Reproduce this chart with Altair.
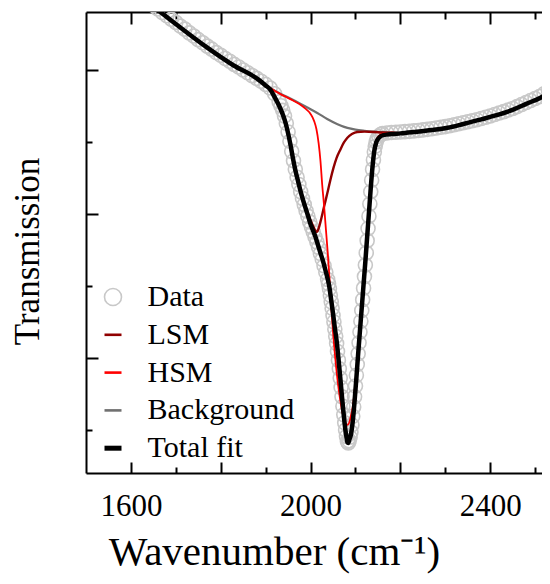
import altair as alt
import pandas as pd

SERIF = "Liberation Serif"

# ---------------- data ----------------
DATA_WN = [1640, 1650, 1660, 1670, 1680, 1690, 1700, 1710, 1720, 1730, 1740, 1750, 1760, 1770,
           1780, 1790, 1800, 1810, 1820, 1830, 1840, 1850, 1860, 1870, 1880, 1890, 1900, 1910,
           1920, 1930,
           1934, 1938, 1942, 1946, 1950, 1954, 1958, 1962, 1966, 1970, 1974, 1978, 1982, 1986,
           1990, 1994, 1998, 2002, 2006, 2010, 2014, 2018, 2022, 2026, 2030, 2034, 2038,
           2040, 2042, 2044, 2046, 2048, 2050, 2052, 2054, 2056, 2058, 2060, 2062, 2064, 2066,
           2068, 2070, 2072, 2074, 2076, 2078, 2080, 2082, 2084, 2086, 2088, 2090, 2092, 2094,
           2096, 2098, 2100, 2102, 2104, 2106, 2108, 2110, 2112, 2114, 2116, 2118, 2120, 2122,
           2124, 2126, 2128, 2130, 2132, 2134, 2136, 2138, 2140, 2142, 2144, 2146, 2148,
           2152, 2156, 2160, 2170, 2180, 2190, 2200, 2210, 2220, 2230, 2240, 2250, 2260, 2270,
           2280, 2290, 2300, 2310, 2320, 2330, 2340, 2350, 2360, 2370, 2380, 2390, 2400, 2410,
           2420, 2430, 2440, 2450, 2460, 2470, 2480, 2490, 2500, 2510, 2520, 2530, 2540]
DATA_TR = [69.78, 69.50, 69.24, 68.99, 68.77, 68.53, 68.31, 68.05, 67.84, 67.58, 67.36, 67.11,
           66.89, 66.66, 66.45, 66.21, 66.02, 65.80, 65.61, 65.39, 65.21, 65.00, 64.81, 64.61,
           64.42, 64.22, 64.00, 63.75, 63.35, 62.80,
           62.52, 62.20, 61.80, 61.30, 60.70, 60.05, 59.35, 58.70, 58.10, 57.55, 57.05, 56.55,
           56.08, 55.65, 55.22, 54.85, 54.45, 54.10, 53.75, 53.40, 53.05, 52.68, 52.25, 51.85,
           51.40, 50.95, 50.45,
           50.15, 49.80, 49.35, 48.90, 48.45, 47.95, 47.50, 47.00, 46.50, 46.00, 45.45, 44.85,
           44.25, 43.60, 42.95, 42.30, 41.65, 41.05, 40.50, 40.00, 39.55, 39.20, 39.10, 39.25,
           39.50, 39.85, 40.35, 40.95, 41.60, 42.30, 43.05, 43.80, 44.55, 45.30, 46.05, 46.80,
           47.55, 48.30, 49.05, 49.85, 50.65, 51.45, 52.30, 53.15, 54.00, 54.85, 55.70, 56.55,
           57.35, 58.10, 58.75, 59.30, 59.70, 60.00, 60.20,
           60.40, 60.52, 60.58, 60.63, 60.66, 60.68, 60.70, 60.72, 60.74, 60.77, 60.80, 60.84,
           60.88, 60.92, 60.97, 61.02, 61.07, 61.13, 61.20, 61.27, 61.34, 61.41, 61.48, 61.55,
           61.63, 61.72, 61.81, 61.91, 62.01, 62.11, 62.22, 62.33, 62.46, 62.60, 62.74, 62.88,
           63.02, 63.16, 63.35, 63.56, 63.78]

TOTAL_WN = [1640, 1665, 1710, 1770, 1828, 1881, 1900, 1910, 1920, 1930, 1940, 1945, 1950, 1955,
            1960, 1966, 1972, 1977, 1983, 1988, 1994, 1999, 2005, 2011, 2016, 2022, 2028, 2033,
            2038, 2042, 2046, 2050, 2054, 2058, 2062, 2066, 2070, 2074, 2078, 2080, 2082, 2084,
            2086, 2090, 2094, 2098, 2102, 2106, 2110, 2114, 2118, 2122, 2126, 2130, 2134, 2138,
            2142, 2146, 2150, 2156, 2162, 2180, 2200, 2229, 2270, 2305, 2340, 2378, 2410, 2451,
            2480, 2512, 2534, 2550]
TOTAL_TR = [69.68, 69.05, 67.95, 66.55, 65.33, 64.40, 63.93, 63.66, 63.12, 62.52, 61.75, 61.25,
            60.60, 59.85, 59.00, 58.06, 57.30, 56.67, 56.00, 55.49, 54.90, 54.38, 53.90, 53.40,
            52.90, 52.29, 51.70, 51.11, 50.50, 49.90, 49.00, 48.10, 47.10, 46.20, 45.00, 43.68,
            42.30, 41.00, 39.90, 39.50, 39.15, 39.10, 39.30, 39.70, 40.60, 42.00, 43.60, 45.30,
            46.90, 48.50, 50.10, 51.70, 53.40, 55.10, 56.80, 58.30, 59.40, 59.95, 60.20, 60.40,
            60.48, 60.55, 60.60, 60.69, 60.83, 60.99, 61.25, 61.55, 61.83, 62.25, 62.65, 63.08,
            63.48, 63.80]

BG_WN = [1640, 1665, 1710, 1770, 1828, 1881, 1900, 1910, 1930, 1955, 1975, 1993, 2015, 2037,
         2060, 2082, 2100, 2120, 2140, 2160, 2182, 2200, 2229, 2270, 2305, 2340, 2378, 2410,
         2451, 2480, 2512, 2534, 2550]
BG_TR = [69.68, 69.05, 67.95, 66.55, 65.33, 64.40, 63.95, 63.76, 63.40, 63.02, 62.70, 62.40,
         62.02, 61.60, 61.24, 60.98, 60.86, 60.78, 60.72, 60.68, 60.65, 60.62, 60.69, 60.83,
         60.99, 61.25, 61.55, 61.83, 62.25, 62.65, 63.08, 63.48, 63.80]

HSM_WN = [1640, 1665, 1710, 1770, 1828, 1881, 1900, 1910, 1930, 1955, 1975, 1990, 2000, 2008,
          2013, 2018, 2022, 2026, 2030, 2034, 2038, 2042, 2046, 2050, 2055, 2060, 2065, 2071,
          2076, 2082, 2086, 2090, 2094, 2098, 2102, 2106, 2110, 2114, 2118, 2122, 2126, 2130,
          2134, 2138, 2142, 2146, 2150, 2156, 2162, 2182, 2200, 2229, 2270, 2305, 2340, 2378,
          2410, 2451, 2480, 2512, 2534, 2550]
HSM_TR = [69.68, 69.05, 67.95, 66.55, 65.33, 64.40, 63.95, 63.75, 63.38, 62.98, 62.64, 62.28,
          61.95, 61.45, 60.90, 59.90, 58.70, 57.00, 55.60, 54.00, 52.40, 50.60, 48.60, 46.80,
          45.00, 43.50, 42.30, 41.20, 40.60, 40.35, 40.50, 41.00, 41.60, 42.70, 44.10, 45.70,
          47.20, 48.80, 50.35, 51.90, 53.60, 55.30, 56.95, 58.45, 59.55, 60.10, 60.35, 60.52,
          60.60, 60.65, 60.62, 60.69, 60.83, 60.99, 61.25, 61.55, 61.83, 62.25, 62.65, 63.08,
          63.48, 63.80]

LSM_WN = [1640, 1665, 1710, 1770, 1828, 1881, 1900, 1910, 1920, 1930, 1940, 1950, 1960, 1970,
          1980, 1990, 1998, 2005, 2010, 2014, 2018, 2022, 2030, 2037, 2044, 2051, 2058, 2066,
          2074, 2082, 2092, 2104, 2120, 2140, 2160, 2182, 2200, 2229, 2270, 2305, 2340, 2378,
          2410, 2451, 2480, 2512, 2534, 2550]
LSM_TR = [69.68, 69.05, 67.95, 66.55, 65.33, 64.40, 63.95, 63.70, 63.18, 62.57, 61.80, 60.66,
          59.08, 57.60, 56.40, 55.40, 54.70, 54.20, 53.88, 53.75, 54.00, 54.45, 55.50, 56.40,
          57.35, 58.20, 58.90, 59.45, 59.95, 60.30, 60.55, 60.70, 60.72, 60.70, 60.66, 60.64,
          60.62, 60.69, 60.83, 60.99, 61.25, 61.55, 61.83, 62.25, 62.65, 63.08, 63.48, 63.80]

LEG_LABELS = ["Data", "LSM", "HSM", "Background", "Total fit"]
LEG_COLORS = ["#c8c8c8", "#900000", "#ff0000", "#707070", "#000000"]
LEG_SHAPES = ["circle", "stroke", "stroke", "stroke", "stroke"]
LEG_WIDTHS = [1.6, 2.6, 2.6, 2.6, 5.0]

X_MAJOR = [1600, 1800, 2000, 2200, 2400]
X_MINOR = [1700, 1900, 2100, 2300, 2500]
X_LABELED = [1600, 2000, 2400]
Y_MAJOR = [45, 55, 65]
Y_MINOR = [40, 50, 60]

X_DOMAIN = [1500, 2515.3]
Y_DOMAIN = [37.01, 69.03]

W, H = 456, 461


def frame(wn, tr):
    return pd.DataFrame({"wn": wn, "tr": tr})


xs = alt.Scale(domain=X_DOMAIN, nice=False, zero=False)
ys = alt.Scale(domain=Y_DOMAIN, nice=False, zero=False)

tick_common = dict(labels=False, grid=False, title=None, tickColor="black", tickWidth=2)

ax_bottom = alt.Axis(orient="bottom", values=X_LABELED, format="d", labelFont=SERIF,
                     labelFontSize=31, labelColor="black", labelPadding=18.5, ticks=False,
                     tickSize=0, domain=True, domainColor="black", domainWidth=2, grid=False,
                     labelFlush=False, labelOverlap=False,
                     title="Wavenumber (cm⁻¹)", titleFont=SERIF, titleFontSize=41,
                     titleFontWeight="normal", titleColor="black", titleX=188,
                     titleY=91, titleAlign="center", titleBaseline="alphabetic")
ax_bot_major = alt.Axis(orient="top", offset=-H, values=X_MAJOR, tickSize=11, domain=False,
                        **tick_common)
ax_bot_minor = alt.Axis(orient="top", offset=-H, values=X_MINOR, tickSize=6, domain=False,
                        **tick_common)
ax_top_major = alt.Axis(orient="bottom", offset=-H, values=X_MAJOR, tickSize=12, domain=True,
                        domainColor="black", domainWidth=2, **tick_common)
ax_top_minor = alt.Axis(orient="bottom", offset=-H, values=X_MINOR, tickSize=7, domain=False,
                        **tick_common)

ax_left = alt.Axis(orient="left", ticks=False, tickSize=0, labels=False, domain=True,
                   domainColor="black", domainWidth=2, grid=False,
                   title="Transmission", titleFont=SERIF, titleFontSize=35,
                   titleFontWeight="normal", titleColor="black", titleX=-48, titleY=239,
                   titleAngle=270, titleAlign="center", titleBaseline="alphabetic")
ax_left_major = alt.Axis(orient="right", offset=-W, values=Y_MAJOR, tickSize=12, domain=False,
                         **tick_common)
ax_left_minor = alt.Axis(orient="right", offset=-W, values=Y_MINOR, tickSize=6, domain=False,
                         **tick_common)

points = alt.Chart(frame(DATA_WN, DATA_TR)).mark_point(
    shape="circle", filled=False, size=196, stroke="#c8c8c8", strokeWidth=1.6,
    opacity=1, clip=True
).encode(
    x=alt.X("wn:Q", scale=xs, axis=ax_bottom),
    y=alt.Y("tr:Q", scale=ys, axis=ax_left),
)


def curve(wn, tr, color, width, xaxis, yaxis):
    return alt.Chart(frame(wn, tr)).mark_line(
        color=color, strokeWidth=width, interpolate="monotone", clip=True
    ).encode(
        x=alt.X("wn:Q", scale=xs, axis=xaxis),
        y=alt.Y("tr:Q", scale=ys, axis=yaxis),
    )


bg = curve(BG_WN, BG_TR, LEG_COLORS[3], 2.2, ax_bot_major, ax_left_major)
lsm = curve(LSM_WN, LSM_TR, LEG_COLORS[1], 2.4, ax_bot_minor, ax_left_minor)
hsm = curve(HSM_WN, HSM_TR, LEG_COLORS[2], 1.8, ax_top_major, None)
total = curve(TOTAL_WN, TOTAL_TR, LEG_COLORS[4], 4.5, ax_top_minor, None)

legend = alt.Legend(orient="none", legendX=12, legendY=270, title=None, padding=0,
                    labelFont=SERIF, labelFontSize=30, labelColor="black", labelOffset=19.5,
                    labelLimit=400, symbolSize=289, rowPadding=7.8, symbolOpacity=1)

leg_df = pd.DataFrame({"series": LEG_LABELS, "wn": [None] * 5, "tr": [None] * 5})
leg_layer = alt.Chart(leg_df).mark_point(filled=False, size=289, opacity=1).encode(
    x=alt.X("wn:Q", scale=xs, axis=None),
    y=alt.Y("tr:Q", scale=ys, axis=None),
    color=alt.Color("series:N", scale=alt.Scale(domain=LEG_LABELS, range=LEG_COLORS),
                    legend=legend),
    shape=alt.Shape("series:N", scale=alt.Scale(domain=LEG_LABELS, range=LEG_SHAPES),
                    legend=legend),
    strokeWidth=alt.StrokeWidth("series:N",
                                scale=alt.Scale(type="ordinal", domain=LEG_LABELS,
                                                range=LEG_WIDTHS),
                                legend=legend),
)

chart = alt.layer(points, bg, lsm, hsm, total, leg_layer).resolve_axis(
    x="independent", y="independent"
).properties(
    width=W, height=H,
    autosize=alt.AutoSizeParams(type="none"),
    padding={"left": 78, "top": 4, "right": 0, "bottom": 101},
    background="white",
).configure_view(stroke=None)

chart.save("out.html", embed_options={"renderer": "svg", "actions": False})
